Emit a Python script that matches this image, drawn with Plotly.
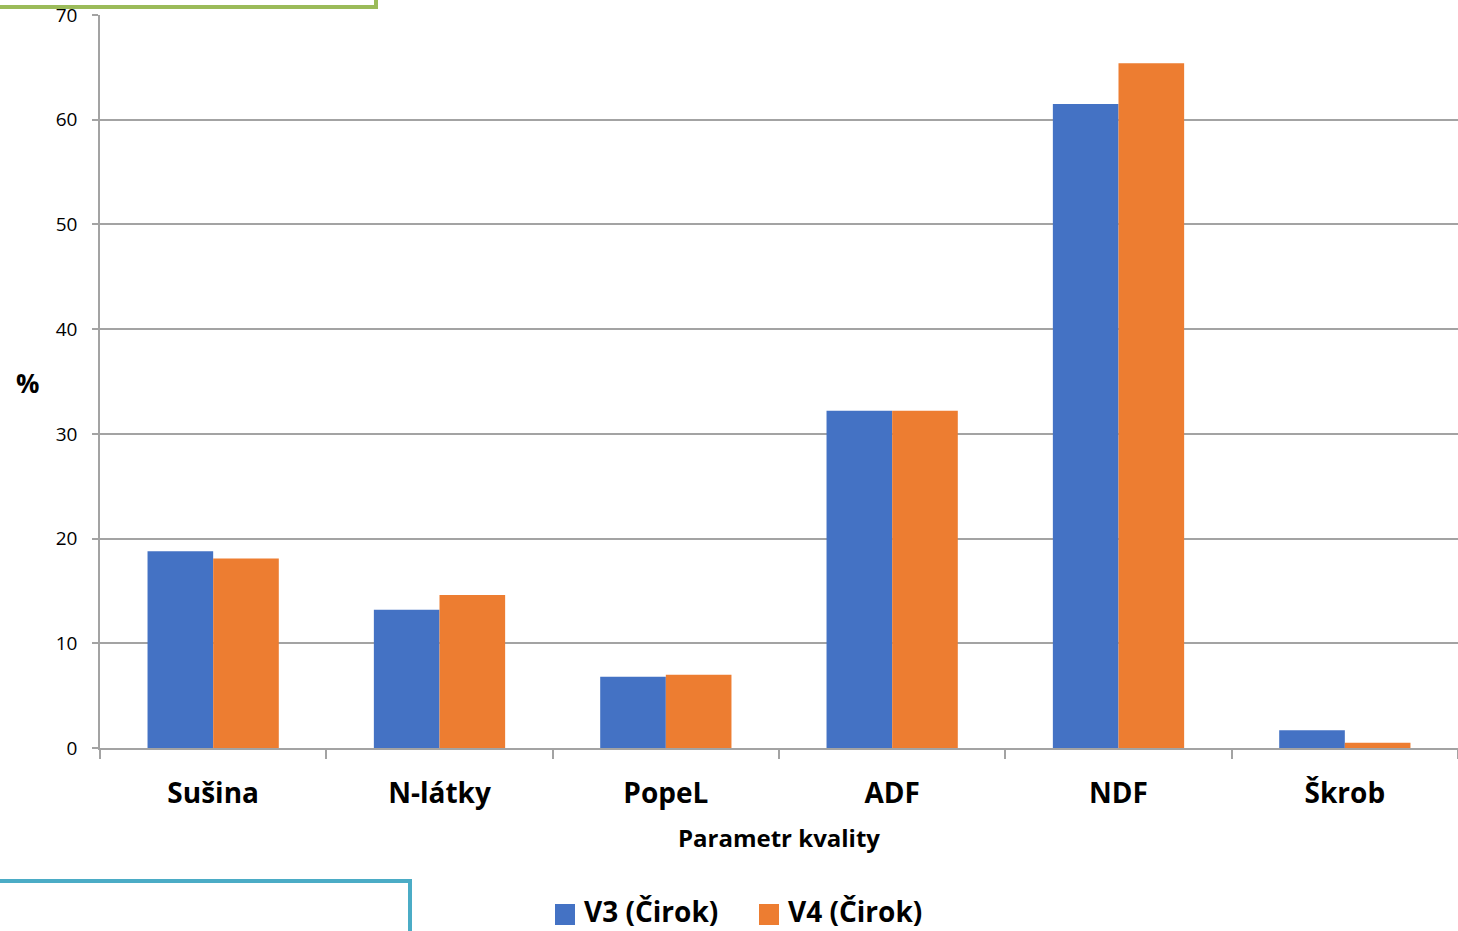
import plotly.graph_objects as go

# Quality parameters of the sorghum silage samples
categories = ["Sušina", "N-látky", "PopeL", "ADF", "NDF", "Škrob"]
v3_values = [18.8, 13.2, 6.8, 32.2, 61.5, 1.7]
v4_values = [18.1, 14.6, 7.0, 32.2, 65.4, 0.5]
series_names = ["V3 (Čirok)", "V4 (Čirok)"]
series_colors = ["#4472C4", "#ED7D31"]
y_ticks = [0, 10, 20, 30, 40, 50, 60, 70]

W, H = 1458, 931
ML, MR, MT, MB = 100, 0, 15, 183
PW, PH = W - ML - MR, H - MT - MB

FONT = "'Open Sans', Calibri, sans-serif"
GRID = "#a3a3a3"


def px_x(x):
    return (x - ML) / PW


def px_y(y):
    return (H - MB - y) / PH


fig = go.Figure()
for name, vals, col in zip(series_names, [v3_values, v4_values], series_colors):
    fig.add_trace(go.Bar(x=categories, y=vals, name=name,
                         marker=dict(color=col, line=dict(width=0))))

fig.update_layout(
    width=W, height=H,
    margin=dict(l=ML, r=MR, t=MT, b=MB, autoexpand=False),
    paper_bgcolor="white", plot_bgcolor="white",
    barmode="group", bargap=0.42, bargroupgap=0,
    font=dict(family=FONT, color="black"),
    showlegend=False,
)

fig.update_xaxes(
    showgrid=False, showline=True, linecolor=GRID, linewidth=1.5,
    ticks="outside", tickson="boundaries", ticklen=9, tickcolor=GRID, tickwidth=1.5,
    tickfont=dict(family=FONT, size=28, color="black", weight="bold"),
    ticklabelstandoff=20,
    title=dict(text="Parametr kvality", standoff=20,
               font=dict(family=FONT, size=24, color="black", weight="bold")),
)
fig.update_yaxes(
    range=[0, 70], tickvals=y_ticks,
    showgrid=True, gridcolor=GRID, gridwidth=1.5,
    showline=True, linecolor=GRID, linewidth=1.5,
    ticks="outside", ticklen=6, tickcolor=GRID, tickwidth=1.5,
    tickfont=dict(family=FONT, size=19, color="black"),
    ticklabelstandoff=11, zeroline=False,
)

fig.add_annotation(text="%", xref="paper", yref="paper",
                   x=px_x(27), y=px_y(383), xanchor="center", yanchor="middle",
                   showarrow=False,
                   font=dict(family=FONT, size=26, color="black", weight="bold"))

# Legend: colour swatch followed by the series name
legend_swatch_x = [555, 759]
for name, col, sx in zip(series_names, series_colors, legend_swatch_x):
    fig.add_shape(type="rect", xref="paper", yref="paper", layer="above",
                  x0=px_x(sx), x1=px_x(sx + 20), y0=px_y(904), y1=px_y(925),
                  fillcolor=col, line=dict(width=0))
    fig.add_annotation(text=name, xref="paper", yref="paper",
                       x=px_x(sx + 27), y=px_y(911), xanchor="left", yanchor="middle",
                       showarrow=False,
                       font=dict(family=FONT, size=28, color="black", weight="bold"))

# Frames of neighbouring page elements
fig.add_shape(type="line", xref="paper", yref="paper", layer="above",
              x0=px_x(-5), x1=px_x(378), y0=px_y(7), y1=px_y(7),
              line=dict(color="#9BBB59", width=4))
fig.add_shape(type="line", xref="paper", yref="paper", layer="above",
              x0=px_x(376), x1=px_x(376), y0=px_y(-5), y1=px_y(9),
              line=dict(color="#9BBB59", width=4))
fig.add_shape(type="line", xref="paper", yref="paper", layer="above",
              x0=px_x(-5), x1=px_x(412), y0=px_y(881), y1=px_y(881),
              line=dict(color="#4BACC6", width=4))
fig.add_shape(type="line", xref="paper", yref="paper", layer="above",
              x0=px_x(410), x1=px_x(410), y0=px_y(879), y1=px_y(940),
              line=dict(color="#4BACC6", width=4))

fig.write_html("out.html")
